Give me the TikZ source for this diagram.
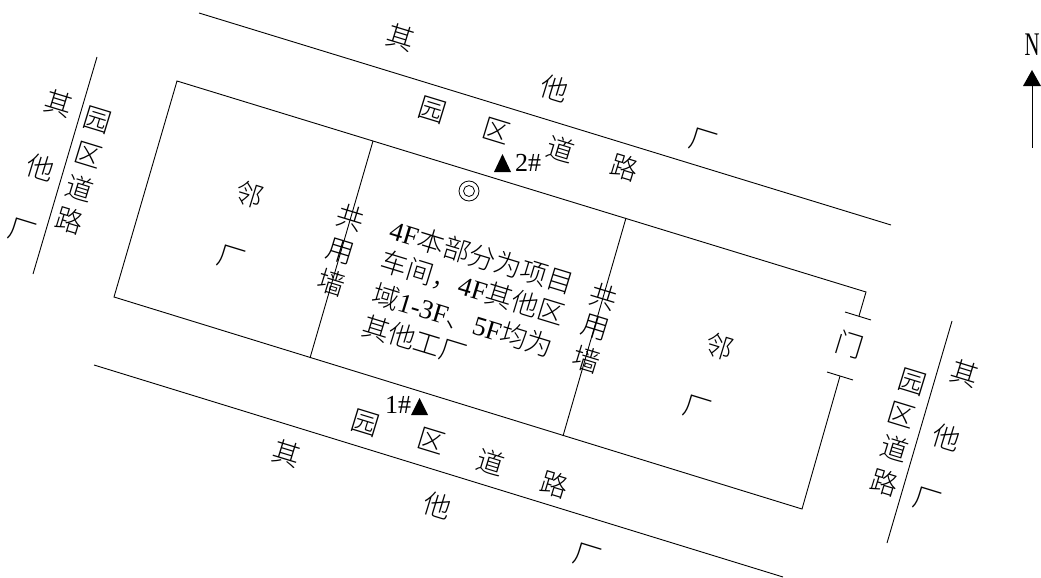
\documentclass[tikz,border=0pt]{standalone}
\usepackage{fontspec}
\setmainfont{Liberation Serif}
\newfontfamily\cjk{Noto Sans CJK SC Light}
\tikzset{
  x=1pt,y=-1pt,
  ln/.style={draw=black,line width=0.9pt},
  lab/.style={inner sep=0pt,font=\fontsize{27.5}{27.5}\selectfont\cjk,rotate=-17},
  para/.style={inner sep=0pt,font=\fontsize{27}{27}\selectfont,rotate=-17},
  tag/.style={inner sep=0pt,font=\fontsize{26}{26}\selectfont},
}
\begin{document}
\begin{tikzpicture}
\useasboundingbox (0,0) rectangle (1041,578);
% building
\coordinate (a) at (177,81);
\coordinate (b) at (866,292);
\coordinate (c) at (859,316);
\coordinate (d) at (840,376);
\coordinate (e) at (802,509);
\coordinate (f) at (114,297);
\draw[ln] (c) -- (b) -- (a) -- (f) -- (e) -- (d);
\draw[ln] (845,312) -- (871,320);
\draw[ln] (827,372) -- (853,380);
\draw[ln] (373,141) -- (310,358);
\draw[ln] (626,218) -- (563,436);
% roads
\draw[ln] (199,13) -- (891,225);
\draw[ln] (94,365) -- (783,577);
\draw[ln] (97,57) -- (33,274);
\draw[ln] (952,321) -- (887,543);
% top road
\node[lab] (t1) at (401,37) {其};
\node[lab] (t2) at (555,88) {他};
\node[lab] (t3) at (703,141) {厂};
\node[lab] (t4) at (432,110) {园};
\node[lab] (t5) at (497,131) {区};
\node[lab] (t6) at (561,149) {道};
\node[lab] (t7) at (625,167) {路};
% left road
\node[lab] (l1) at (59,103) {其};
\node[lab] (l2) at (41,167) {他};
\node[lab] (l3) at (22,231) {厂};
\node[lab] (l4) at (98,120) {园};
\node[lab] (l5) at (89,155) {区};
\node[lab] (l6) at (80,188) {道};
\node[lab] (l7) at (70,220) {路};
% bottom road
\node[lab] (b1) at (287,453) {其};
\node[lab] (b2) at (438,505) {他};
\node[lab] (b3) at (587,556) {厂};
\node[lab] (b4) at (365,423) {园};
\node[lab] (b5) at (432,441) {区};
\node[lab] (b6) at (491,462) {道};
\node[lab] (b7) at (555,484) {路};
% right road
\node[lab] (r1) at (965,373) {其};
\node[lab] (r2) at (947,437) {他};
\node[lab] (r3) at (927,500) {厂};
\node[lab] (r4) at (912,382) {园};
\node[lab] (r5) at (902,415) {区};
\node[lab] (r6) at (895,448) {道};
\node[lab] (r7) at (885,482) {路};
% inside
\node[lab] (n1) at (250,195) {邻};
\node[lab] (n2) at (231,258) {厂};
\node[lab] (n3) at (720,347) {邻};
\node[lab] (n4) at (697,408) {厂};
\node[lab] (g) at (850,345) {门};
\node[lab] (w1) at (351,218) {共};
\node[lab] (w2) at (340,252) {用};
\node[lab] (w3) at (332,283) {墙};
\node[lab] (w4) at (604,297) {共};
\node[lab] (w5) at (595,328) {用};
\node[lab] (w6) at (587,360) {墙};
% centre text
\node[para] (p1) at (482,257) {4F{\cjk 本部分为项目}};
\node[para] (p2) at (473,288) {{\cjk 车间，}4F{\cjk 其他区}};
\node[para] (p3) at (463,320) {{\cjk 域}1-3F{\cjk 、}5F{\cjk 均为}};
\node[para] (p4) at (415,340) {{\cjk 其他工厂}};
% markers
\draw[line width=0.8pt] (469,191) circle[radius=10];
\draw[line width=0.8pt] (469,191) circle[radius=5.5];
\fill (494,172) -- (511,172) -- (502.5,154) -- cycle;
\node[tag] (two) at (528,163) {2\#};
\fill (411,415) -- (428,415) -- (419.5,398) -- cycle;
\node[tag] (one) at (398,405) {1\#};
% north
\node[inner sep=0pt,font=\fontsize{33}{33}\selectfont,xscale=0.63] (north) at (1032,45) {N};
\fill (1023,86) -- (1041,86) -- (1032,70) -- cycle;
\draw[ln] (1032,86) -- (1032,148);
\end{tikzpicture}
\end{document}
